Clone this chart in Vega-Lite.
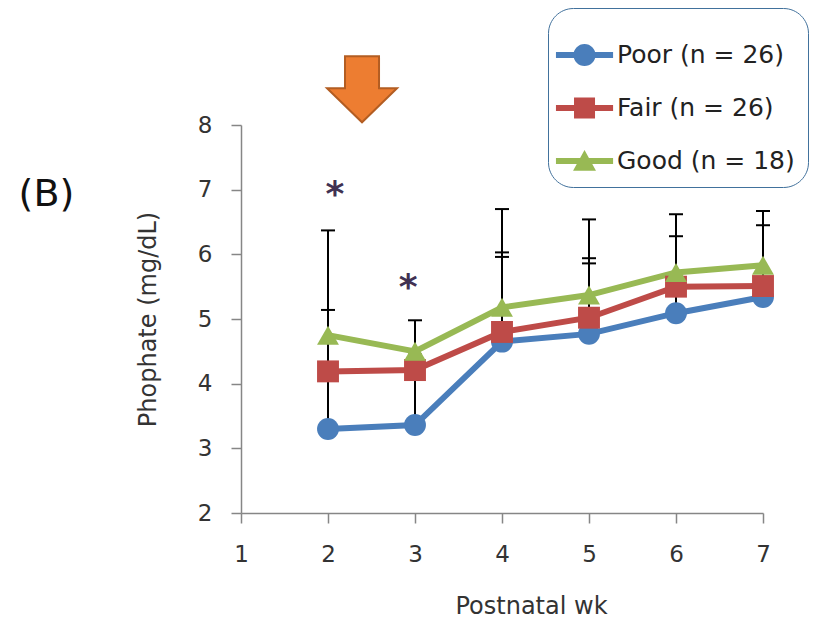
{
  "$schema": "https://vega.github.io/schema/vega-lite/v6.json",
  "width": 522,
  "height": 388,
  "autosize": "none",
  "padding": {"left": 241, "top": 125, "right": 70, "bottom": 107},
  "background": "white",
  "config": {
    "view": {"stroke": null},
    "font": "DejaVu Sans",
    "axis": {
      "domainColor": "#868686",
      "tickColor": "#868686",
      "domainWidth": 1.5,
      "tickWidth": 1.5,
      "tickSize": 10,
      "labelFontSize": 23,
      "labelColor": "#333333",
      "labelFlush": false,
      "titleFontSize": 24,
      "titleFontWeight": "normal",
      "titleColor": "#333333",
      "grid": false,
      "labelFont": "DejaVu Sans",
      "titleFont": "DejaVu Sans"
    }
  },
  "datasets": {
    "phosphate": [
      {"wk": 2, "group": "Poor (n = 26)", "mean": 3.30, "upper": 4.15},
      {"wk": 3, "group": "Poor (n = 26)", "mean": 3.36, "upper": 4.20},
      {"wk": 4, "group": "Poor (n = 26)", "mean": 4.65, "upper": 5.96},
      {"wk": 5, "group": "Poor (n = 26)", "mean": 4.77, "upper": 5.86},
      {"wk": 6, "group": "Poor (n = 26)", "mean": 5.09, "upper": 5.50},
      {"wk": 7, "group": "Poor (n = 26)", "mean": 5.34, "upper": 5.60},
      {"wk": 2, "group": "Fair (n = 26)", "mean": 4.19, "upper": 5.14},
      {"wk": 3, "group": "Fair (n = 26)", "mean": 4.21, "upper": 4.45},
      {"wk": 4, "group": "Fair (n = 26)", "mean": 4.80, "upper": 6.03},
      {"wk": 5, "group": "Fair (n = 26)", "mean": 5.02, "upper": 5.94},
      {"wk": 6, "group": "Fair (n = 26)", "mean": 5.50, "upper": 6.28},
      {"wk": 7, "group": "Fair (n = 26)", "mean": 5.51, "upper": 6.45},
      {"wk": 2, "group": "Good (n = 18)", "mean": 4.75, "upper": 6.37},
      {"wk": 3, "group": "Good (n = 18)", "mean": 4.50, "upper": 4.98},
      {"wk": 4, "group": "Good (n = 18)", "mean": 5.18, "upper": 6.70},
      {"wk": 5, "group": "Good (n = 18)", "mean": 5.37, "upper": 6.54},
      {"wk": 6, "group": "Good (n = 18)", "mean": 5.72, "upper": 6.62},
      {"wk": 7, "group": "Good (n = 18)", "mean": 5.83, "upper": 6.67}
    ],
    "notes": [
      {"kind": "star", "wk": 2.08, "value": 6.99, "note": "*"},
      {"kind": "star", "wk": 2.92, "value": 5.55, "note": "*"},
      {"kind": "panel", "wk": -1.236, "value": 6.96, "note": "(B)"},
      {"kind": "arrow", "wk": 2.391, "value": 8.553, "note": "arrow"}
    ]
  },
  "encoding": {
    "x": {"field": "wk", "type": "quantitative", "scale": {"domain": [1, 7]},
      "axis": {"values": [1, 2, 3, 4, 5, 6, 7], "title": "Postnatal wk", "labelPadding": 20, "titlePadding": 28, "titleX": 290}},
    "y": {"field": "mean", "type": "quantitative", "scale": {"domain": [2, 8]},
      "axis": {"values": [2, 3, 4, 5, 6, 7, 8], "title": "Phophate (mg/dL)", "labelPadding": 19, "titlePadding": 37}}
  },
  "layer": [
    {
      "data": {"name": "phosphate"},
      "mark": {"type": "rule", "color": "black", "strokeWidth": 2},
      "encoding": {
        "y2": {"field": "upper"}
      }
    },
    {
      "data": {"name": "phosphate"},
      "mark": {"type": "tick", "orient": "horizontal", "color": "black", "size": 14, "thickness": 2, "opacity": 1},
      "encoding": {
        "y": {"field": "upper", "type": "quantitative",
          "axis": {"values": [2, 3, 4, 5, 6, 7, 8], "title": "Phophate (mg/dL)", "labelPadding": 19, "titlePadding": 37}}
      }
    },
    {
      "data": {"name": "phosphate"},
      "mark": {"type": "line", "strokeWidth": 6},
      "encoding": {
        "color": {"field": "group", "type": "nominal", "scale": {"domain": ["Poor (n = 26)", "Fair (n = 26)", "Good (n = 18)"], "range": ["#4A7EBB", "#BE4B48", "#98B954"]}, "legend": null}
      }
    },
    {
      "data": {"name": "phosphate"},
      "mark": {"type": "point", "filled": true, "opacity": 1, "size": 480},
      "encoding": {
        "color": {"field": "group", "type": "nominal", "scale": {"domain": ["Poor (n = 26)", "Fair (n = 26)", "Good (n = 18)"], "range": ["#4A7EBB", "#BE4B48", "#98B954"]}, "legend": null},
        "shape": {"field": "group", "type": "nominal", "scale": {"domain": ["Poor (n = 26)", "Fair (n = 26)", "Good (n = 18)"], "range": ["circle", "square", "triangle-up"]}, "legend": null}
      }
    },
    {
      "data": {"name": "phosphate"},
      "transform": [{"filter": "false"}],
      "mark": {"type": "point", "filled": true, "opacity": 1, "size": 784, "strokeWidth": 0},
      "encoding": {
        "fill": {"field": "group", "type": "nominal",
          "scale": {"domain": ["Poor (n = 26)", "Fair (n = 26)", "Good (n = 18)"], "range": ["#4A7EBB", "#BE4B48", "#98B954"]},
          "legend": {"orient": "none", "legendX": 307, "legendY": -117, "title": " ", "titleFontSize": 8, "titlePadding": 12, "padding": 13, "rowPadding": 26, "cornerRadius": 25, "strokeColor": "#41719C", "fillColor": "white", "labelFontSize": 25, "labelColor": "#222222", "labelFont": "DejaVu Sans", "labelOffset": 28, "symbolSize": 784, "symbolStrokeWidth": 0, "symbolOpacity": 1, "labelLimit": 400, "labelExpr": "datum.label + '\u00a0\u00a0\u00a0\u00a0\u00a0\u00a0\u00a0\u00a0'"}},
        "shape": {"field": "group", "type": "nominal",
          "scale": {"domain": ["Poor (n = 26)", "Fair (n = 26)", "Good (n = 18)"], "range": [
            "M-1.36,-0.21H2.72V0.21H-1.36Z M1.47,0A0.79,0.79 0 1,1 -0.11,0A0.79,0.79 0 1,1 1.47,0Z",
            "M-1.36,-0.21H2.72V0.21H-1.36Z M-0.07,-0.75H1.43V0.75H-0.07Z",
            "M-1.36,-0.21H2.72V0.21H-1.36Z M0.68,-0.78L1.5,0.7H-0.14Z"
          ]},
          "legend": {"orient": "none", "legendX": 307, "legendY": -117, "title": " ", "titleFontSize": 8, "titlePadding": 12, "padding": 13, "rowPadding": 26, "cornerRadius": 25, "strokeColor": "#41719C", "fillColor": "white", "labelFontSize": 25, "labelColor": "#222222", "labelFont": "DejaVu Sans", "labelOffset": 28, "symbolSize": 784, "symbolStrokeWidth": 0, "symbolOpacity": 1, "labelLimit": 400, "labelExpr": "datum.label + '\u00a0\u00a0\u00a0\u00a0\u00a0\u00a0\u00a0\u00a0'"}}
      }
    },
    {
      "data": {"name": "notes"},
      "transform": [{"filter": "datum.kind == 'star'"}],
      "mark": {"type": "text", "fontSize": 36, "fontWeight": "bold", "color": "#403152", "align": "center", "baseline": "alphabetic", "dy": 16, "font": "DejaVu Sans"},
      "encoding": {
        "y": {"field": "value", "type": "quantitative",
          "axis": {"values": [2, 3, 4, 5, 6, 7, 8], "title": "Phophate (mg/dL)", "labelPadding": 19, "titlePadding": 37}},
        "text": {"field": "note"}
      }
    },
    {
      "data": {"name": "notes"},
      "transform": [{"filter": "datum.kind == 'panel'"}],
      "mark": {"type": "text", "fontSize": 38, "color": "#111111", "align": "center", "baseline": "alphabetic", "dy": 14, "font": "DejaVu Sans"},
      "encoding": {
        "y": {"field": "value", "type": "quantitative",
          "axis": {"values": [2, 3, 4, 5, 6, 7, 8], "title": "Phophate (mg/dL)", "labelPadding": 19, "titlePadding": 37}},
        "text": {"field": "note"}
      }
    },
    {
      "data": {"name": "notes"},
      "transform": [{"filter": "datum.kind == 'arrow'"}],
      "mark": {"type": "point", "filled": true, "opacity": 1, "size": 4900, "fill": "#ED7D31", "stroke": "#B35D22", "strokeWidth": 2,
        "shape": "M-0.486,-0.943H0.486V-0.03H1L0,0.943L-1,-0.03H-0.486Z"},
      "encoding": {
        "y": {"field": "value", "type": "quantitative",
          "axis": {"values": [2, 3, 4, 5, 6, 7, 8], "title": "Phophate (mg/dL)", "labelPadding": 19, "titlePadding": 37}}
      }
    }
  ],
  "resolve": {
    "scale": {"shape": "independent", "fill": "independent"},
    "legend": {"shape": "independent", "fill": "independent"}
  }
}
